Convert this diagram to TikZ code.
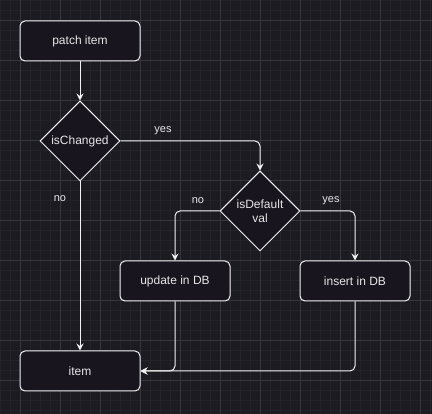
\documentclass[tikz,border=0pt]{standalone}
\usepackage{fontspec}
\setmainfont{Liberation Sans}
\usetikzlibrary{shapes.geometric,arrows.meta}
\definecolor{bgdark}{HTML}{1C1B22}
\definecolor{gridminor}{HTML}{24232A}
\definecolor{gridmajor}{HTML}{37363D}
\definecolor{boxfill}{HTML}{18151E}
\definecolor{edge}{HTML}{F2F2F2}
\definecolor{txt}{HTML}{E6E6E6}
\tikzset{
  procbox/.style={draw=edge, fill=boxfill, line width=1pt, rounded corners=5pt,
    minimum width=#1, minimum height=40pt, inner sep=0pt, text=txt,
    font=\fontsize{12pt}{14pt}\selectfont},
  procbox/.default=120pt,
  decision/.style={draw=edge, fill=boxfill, line width=1pt, diamond, aspect=1,
    minimum width=80pt, minimum height=80pt, inner sep=0pt, text=txt, align=center,
    font=\fontsize{12pt}{13.5pt}\selectfont},
  flow/.style={draw=edge, line width=1pt, rounded corners=5pt,
    -{Stealth[length=7pt,width=7pt,inset=2.5pt]}},
  lbl/.style={text=txt, font=\fontsize{11pt}{13pt}\selectfont, inner sep=0pt}
}
\begin{document}
\begin{tikzpicture}[x=1pt,y=-1pt]
  % canvas and grid
  \fill[bgdark] (0,0) rectangle (432,414);
  \useasboundingbox (0,0) rectangle (432,414);
  \foreach \k in {0.5,10.5,...,430.5} \draw[gridminor, line width=0.6pt] (\k,0) -- (\k,414);
  \foreach \k in {0.5,10.5,...,410.5} \draw[gridminor, line width=0.6pt] (0,\k) -- (432,\k);
  \foreach \k in {20.5,60.5,...,430.5} \draw[gridmajor, line width=0.8pt] (\k,0) -- (\k,414);
  \foreach \k in {20.5,60.5,...,410.5} \draw[gridmajor, line width=0.8pt] (0,\k) -- (432,\k);

  % nodes
  \node[procbox] (patch) at (80,41) {patch item};
  \node[decision] (changed) at (80,141) {isChanged};
  \node[decision] (default) at (260,211) {isDefault\\val};
  \node[procbox=110pt] (update) at (175,281) {update in DB};
  \node[procbox=110pt] (insert) at (355,281) {insert in DB};
  \node[procbox] (item) at (80,371) {item};

  % connectors
  \draw[flow] (patch) -- (changed);
  \draw[flow] (changed.east) -| (default.north);
  \draw[flow] (changed.south) -- (item.north);
  \draw[flow] (default.west) -| (update.north);
  \draw[flow] (default.east) -| (insert.north);
  \draw[flow] (update.south) |- (item.east);
  \draw[flow] (insert.south) |- (item.east);

  % branch labels
  \node[lbl] (yesA) at (163,131) {yes};
  \node[lbl] (noA) at (60,199) {no};
  \node[lbl] (noB) at (198,201) {no};
  \node[lbl] (yesB) at (331,201) {yes};
\end{tikzpicture}
\end{document}
